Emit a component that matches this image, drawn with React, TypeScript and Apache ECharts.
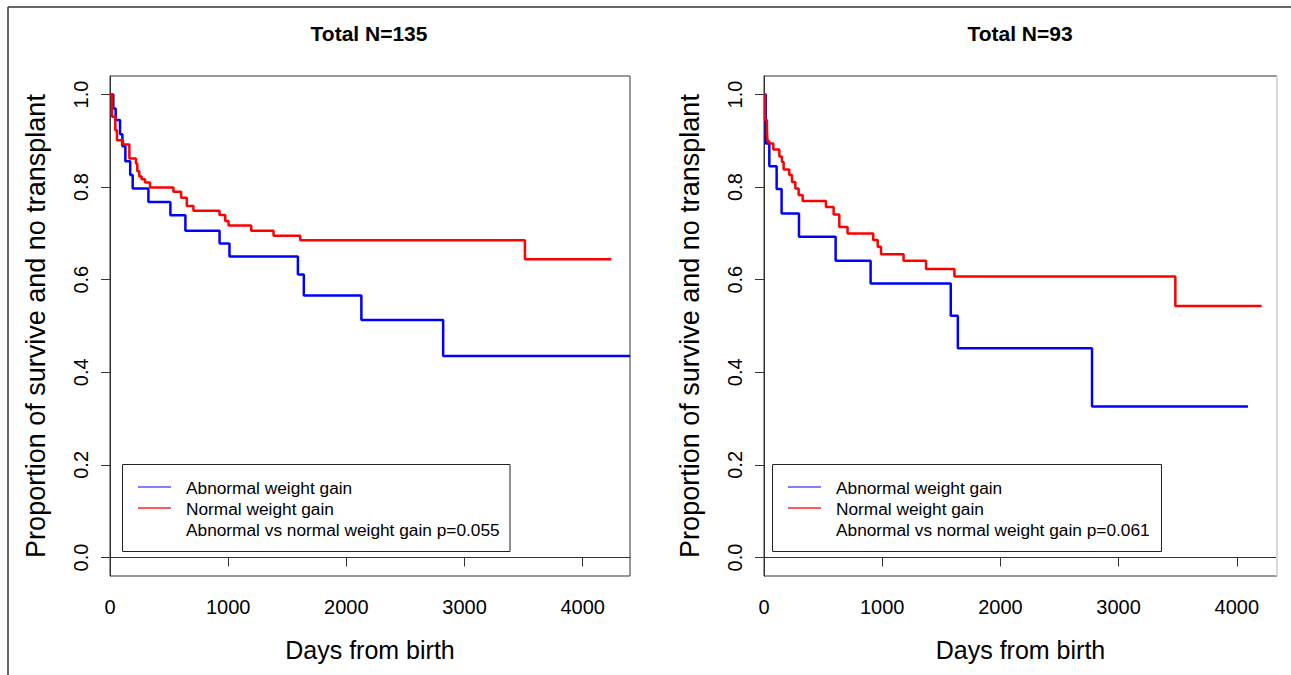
import React, { useEffect, useRef } from 'react';
import * as echarts from 'echarts';

// ---------- data ----------
const panelTitles = ['Total N=135', 'Total N=93'];
const seriesNames = ['Abnormal weight gain', 'Normal weight gain'];
const pValueTexts = [
  'Abnormal vs normal weight gain p=0.055',
  'Abnormal vs normal weight gain p=0.061',
];
const xAxisTitle = 'Days from birth';
const yAxisTitle = 'Proportion of survive and no transplant';
const xTicks = [0, 1000, 2000, 3000, 4000];
const yTicks = [0, 0.2, 0.4, 0.6, 0.8, 1.0];
const xMaxByPanel = [4400, 4340];

// Panel 1 (N=135)
const p1AbnormalDays = [0, 28, 48, 85, 105, 130, 171, 192, 325, 511, 638, 927, 1011, 1590, 1640, 2127, 2819, 4400];
const p1AbnormalSurv = [1, 0.970, 0.945, 0.914, 0.888, 0.856, 0.826, 0.797, 0.768, 0.739, 0.706, 0.678, 0.650, 0.611, 0.566, 0.513, 0.435, 0.435];
const p1NormalDays = [0, 17, 45, 59, 110, 164, 220, 231, 248, 268, 297, 339, 537, 602, 650, 706, 927, 975, 1003, 1195, 1384, 1610, 3511, 4243];
const p1NormalSurv = [1, 0.952, 0.923, 0.901, 0.892, 0.862, 0.851, 0.834, 0.823, 0.817, 0.810, 0.799, 0.790, 0.777, 0.759, 0.749, 0.740, 0.727, 0.717, 0.706, 0.695, 0.685, 0.644, 0.644];

// Panel 2 (N=93)
const p2AbnormalDays = [0, 15, 45, 107, 149, 296, 606, 902, 1580, 1640, 2775, 4094];
const p2AbnormalSurv = [1, 0.894, 0.845, 0.796, 0.743, 0.693, 0.641, 0.592, 0.522, 0.452, 0.326, 0.326];
const p2NormalDays = [0, 8, 25, 30, 45, 79, 130, 152, 166, 214, 237, 265, 293, 327, 524, 589, 637, 707, 924, 962, 990, 1181, 1371, 1611, 3480, 4210];
const p2NormalSurv = [1, 0.945, 0.920, 0.899, 0.894, 0.881, 0.866, 0.854, 0.838, 0.826, 0.811, 0.797, 0.783, 0.770, 0.757, 0.741, 0.714, 0.700, 0.686, 0.671, 0.655, 0.641, 0.623, 0.607, 0.543, 0.543];

const zip = (xs: number[], ys: number[]) => xs.map((x, i) => [x, ys[i]]);

const FONT = '"Liberation Sans", Arial, sans-serif';
const AXIS_COLOR = '#333';
const BLUE = '#0000ff';
const RED = '#ff0000';

export default function App() {
  const ref = useRef<HTMLDivElement>(null);

  useEffect(() => {
    document.body.style.margin = '0';
    if (!ref.current) return;
    const chart = echarts.init(ref.current, null, { renderer: 'svg' });

    const grids = [
      { left: 110, top: 76, width: 520, height: 500 },
      { left: 764, top: 76, width: 513, height: 500 },
    ];

    const xAxes = grids.map((_, i) => ({
      type: 'value',
      gridIndex: i,
      min: 0,
      max: xMaxByPanel[i],
      axisLine: { show: true, lineStyle: { color: AXIS_COLOR, width: 1 } },
      axisTick: { show: true, customValues: xTicks, length: 9, lineStyle: { color: AXIS_COLOR } },
      axisLabel: {
        customValues: xTicks,
        formatter: (v: number) => String(v),
        color: '#000',
        fontSize: 20,
        fontFamily: FONT,
        margin: 21,
      },
      splitLine: { show: false },
      name: xAxisTitle,
      nameLocation: 'middle',
      nameGap: 61,
      nameTextStyle: { color: '#000', fontSize: 25, fontFamily: FONT },
    }));

    const yAxes = grids.map((_, i) => ({
      type: 'value',
      gridIndex: i,
      min: -0.04,
      max: 1.04,
      axisLine: { show: true, lineStyle: { color: AXIS_COLOR, width: 1 } },
      axisTick: { show: true, customValues: yTicks, length: 9, lineStyle: { color: AXIS_COLOR } },
      axisLabel: {
        customValues: yTicks,
        formatter: (v: number) => v.toFixed(1),
        rotate: 90,
        color: '#000',
        fontSize: 20,
        fontFamily: FONT,
        margin: 19,
      },
      splitLine: { show: false },
      name: yAxisTitle,
      nameLocation: 'middle',
      nameRotate: 90,
      nameGap: 61,
      nameTextStyle: { color: '#000', fontSize: 27, fontFamily: FONT },
    }));

    const panelData = [
      [zip(p1AbnormalDays, p1AbnormalSurv), zip(p1NormalDays, p1NormalSurv)],
      [zip(p2AbnormalDays, p2AbnormalSurv), zip(p2NormalDays, p2NormalSurv)],
    ];
    const colors = [BLUE, RED];

    const series: any[] = [];
    panelData.forEach((pair, i) => {
      pair.forEach((data, k) => {
        series.push({
          type: 'line',
          name: seriesNames[k],
          xAxisIndex: i,
          yAxisIndex: i,
          data,
          step: 'end',
          symbol: 'none',
          lineStyle: { color: colors[k], width: 2.5 },
          z: 2 + k,
        });
      });
    });

    const graphic: any[] = [];
    // outer frame
    graphic.push({ type: 'line', shape: { x1: 8, y1: 7, x2: 1291, y2: 7 }, style: { stroke: '#333', lineWidth: 1.5 }, z: 100 });
    graphic.push({ type: 'line', shape: { x1: 8, y1: 7, x2: 8, y2: 675 }, style: { stroke: '#333', lineWidth: 1.5 }, z: 100 });
    // lighter right edge of right panel
    graphic.push({ type: 'line', shape: { x1: 1277, y1: 76, x2: 1277, y2: 576 }, style: { stroke: '#d8d8d8', lineWidth: 2 }, z: 100 });

    const titleX = [369, 1020];
    const legendBoxX = [122.5, 772.5];
    const legendBoxW = [387.5, 389];
    grids.forEach((_, i) => {
      graphic.push({
        type: 'text',
        z: 100,
        style: {
          text: panelTitles[i], x: titleX[i], y: 33,
          fill: '#000', fontSize: 21, fontWeight: 'bold', fontFamily: FONT,
          textAlign: 'center', textVerticalAlign: 'middle', align: 'center', verticalAlign: 'middle',
        },
      });
      const bx = legendBoxX[i];
      graphic.push({
        type: 'rect', z: 100,
        shape: { x: bx, y: 464.5, width: legendBoxW[i], height: 87 },
        style: { fill: '#fff', stroke: '#222', lineWidth: 1 },
      });
      const lineX1 = bx + 15.5;
      const lineX2 = bx + 48.5;
      const textX = bx + 63.5;
      const rows = [seriesNames[0], seriesNames[1], pValueTexts[i]];
      const rowY = [488, 509, 530];
      rows.forEach((t, r) => {
        if (r < 2) {
          graphic.push({
            type: 'line', z: 101,
            shape: { x1: lineX1, y1: rowY[r] - 1, x2: lineX2, y2: rowY[r] - 1 },
            style: { stroke: r === 0 ? '#5555ff' : '#ff2222', lineWidth: 1.5 },
          });
        }
        graphic.push({
          type: 'text', z: 101,
          style: {
            text: t, x: textX, y: rowY[r],
            fill: '#000', fontSize: 17.3, fontFamily: FONT,
            textAlign: 'left', textVerticalAlign: 'middle', align: 'left', verticalAlign: 'middle',
          },
        });
      });
    });

    chart.setOption({
      animation: false,
      backgroundColor: '#fff',
      grid: grids.map((g) => ({ ...g, show: true, borderColor: AXIS_COLOR, borderWidth: 1, backgroundColor: 'transparent' })),
      xAxis: xAxes,
      yAxis: yAxes,
      series,
      graphic,
    });

    return () => chart.dispose();
  }, []);

  return <div ref={ref} style={{ width: 1291, height: 675 }} />;
}
